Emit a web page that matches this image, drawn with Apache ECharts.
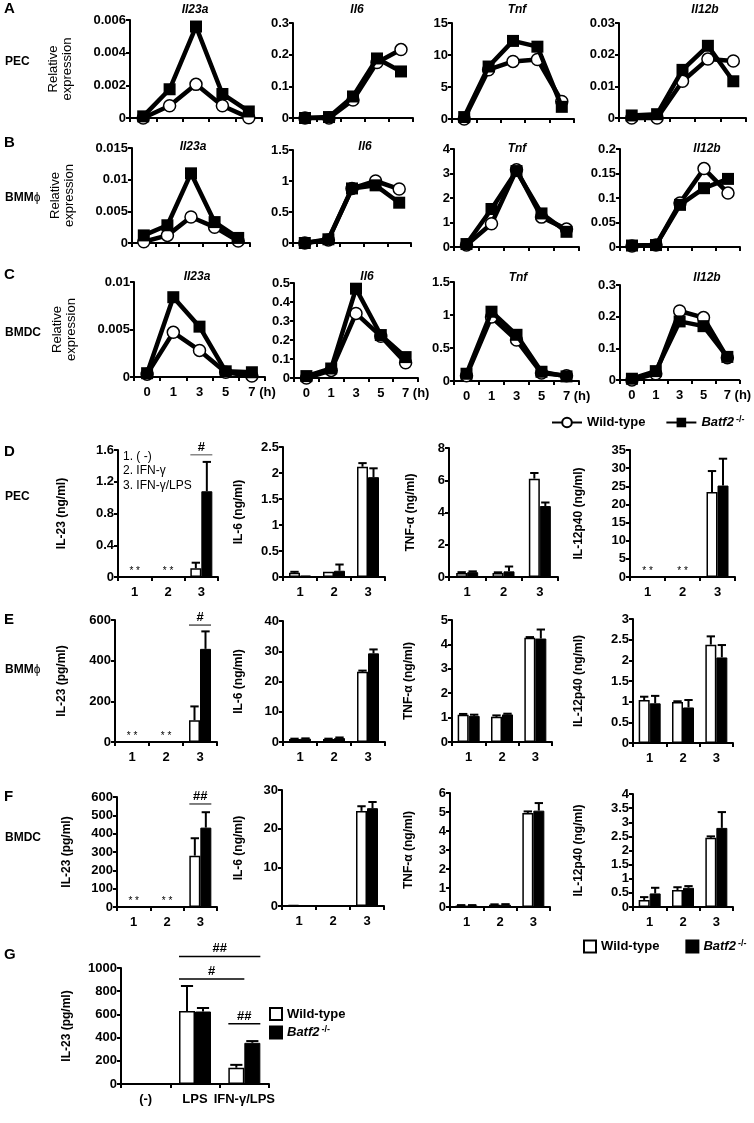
<!DOCTYPE html>
<html><head><meta charset="utf-8">
<script src="https://cdn.jsdelivr.net/npm/echarts@6/dist/echarts.min.js"></script>
<style>html,body{margin:0;padding:0;background:#fff}#c{width:754px;height:1123px}</style>
</head><body><div id="c"></div>
<script>
// ---------- DATA ----------
const hours = ['0', '1', '3', '5', '7'];
// A: PEC (relative expression)
const pecIl23aWT = [0, 0.00075, 0.00206, 0.00075, 0.00002];
const pecIl23aKO = [0.0001, 0.00176, 0.0056, 0.00147, 0.0004];
const pecIl6WT = [0, 0, 0.057, 0.175, 0.216];
const pecIl6KO = [0, 0.003, 0.068, 0.188, 0.147];
const pecTnfWT = [0, 7.7, 9.0, 9.3, 2.75];
const pecTnfKO = [0.3, 8.2, 12.2, 11.3, 1.9];
const pecIl12bWT = [0, 0, 0.0116, 0.0186, 0.018];
const pecIl12bKO = [0.0008, 0.0012, 0.0152, 0.0228, 0.0116];
// B: BMM (relative expression)
const bmmIl23aWT = [0.0002, 0.0012, 0.0041, 0.0025, 0.0003];
const bmmIl23aKO = [0.0012, 0.0028, 0.011, 0.0033, 0.0008];
const bmmIl6WT = [0, 0.05, 0.88, 1.0, 0.87];
const bmmIl6KO = [0, 0.06, 0.88, 0.93, 0.65];
const bmmTnfWT = [0.08, 0.95, 3.15, 1.22, 0.73];
const bmmTnfKO = [0.12, 1.55, 3.1, 1.37, 0.62];
const bmmIl12bWT = [0.002, 0.004, 0.09, 0.16, 0.11];
const bmmIl12bKO = [0.003, 0.004, 0.086, 0.12, 0.139];
// C: BMDC (relative expression)
const bmdcIl23aWT = [0.0003, 0.0047, 0.0028, 0.0005, 0.0001];
const bmdcIl23aKO = [0.0004, 0.0084, 0.0053, 0.0006, 0.0005];
const bmdcIl6WT = [0, 0.04, 0.34, 0.22, 0.08];
const bmdcIl6KO = [0.01, 0.05, 0.47, 0.226, 0.11];
const bmdcTnfWT = [0.08, 0.97, 0.62, 0.12, 0.08];
const bmdcTnfKO = [0.11, 1.05, 0.7, 0.14, 0.07];
const bmdcIl12bWT = [0, 0.02, 0.218, 0.197, 0.07];
const bmdcIl12bKO = [0.004, 0.028, 0.185, 0.17, 0.073];

const barCats = ['1', '2', '3'];
// D: PEC cytokines
const pecIL23WT = [0, 0, 0.11],   pecIL23WTerr = [0, 0, 0.07];
const pecIL23KO = [0, 0, 1.08],   pecIL23KOerr = [0, 0, 0.37];
const pecIL6WT = [0.08, 0.1, 2.12], pecIL6WTerr = [0.02, 0, 0.07];
const pecIL6KO = [0.03, 0.12, 1.92], pecIL6KOerr = [0, 0.12, 0.17];
const pecTNFWT = [0.25, 0.25, 6.1], pecTNFWTerr = [0.05, 0.04, 0.35];
const pecTNFKO = [0.3, 0.35, 4.4],  pecTNFKOerr = [0.05, 0.3, 0.22];
const pecIL12WT = [0, 0, 23.4], pecIL12WTerr = [0, 0, 5.8];
const pecIL12KO = [0, 0, 25.2], pecIL12KOerr = [0, 0, 7.4];
// E: BMM cytokines
const bmmIL23WT = [0, 0, 107], bmmIL23WTerr = [0, 0, 68];
const bmmIL23KO = [0, 0, 458], bmmIL23KOerr = [0, 0, 86];
const bmmIL6WT = [1.0, 1.0, 23.2], bmmIL6WTerr = [0.1, 0.1, 0.4];
const bmmIL6KO = [1.1, 1.3, 29.3], bmmIL6KOerr = [0.1, 0.2, 1.3];
const bmmTNFWT = [1.12, 1.03, 4.27], bmmTNFWTerr = [0.03, 0.06, 0.03];
const bmmTNFKO = [1.07, 1.13, 4.24], bmmTNFKOerr = [0.05, 0.03, 0.37];
const bmmIL12WT = [1.04, 0.99, 2.38], bmmIL12WTerr = [0.08, 0.02, 0.2];
const bmmIL12KO = [0.96, 0.86, 2.07], bmmIL12KOerr = [0.18, 0.18, 0.3];
// F: BMDC cytokines
const bmdcIL23WT = [0, 0, 280], bmdcIL23WTerr = [0, 0, 95];
const bmdcIL23KO = [0, 0, 433], bmdcIL23KOerr = [0, 0, 84];
const bmdcIL6WT = [0.2, 0.15, 24.6], bmdcIL6WTerr = [0, 0, 1.2];
const bmdcIL6KO = [0.2, 0.2, 25.3],  bmdcIL6KOerr = [0, 0, 1.6];
const bmdcTNFWT = [0.08, 0.12, 4.95], bmdcTNFWTerr = [0.02, 0.02, 0.08];
const bmdcTNFKO = [0.08, 0.12, 5.07], bmdcTNFKOerr = [0.02, 0.03, 0.4];
const bmdcIL12WT = [0.25, 0.6, 2.45], bmdcIL12WTerr = [0.1, 0.1, 0.05];
const bmdcIL12KO = [0.48, 0.68, 2.8], bmdcIL12KOerr = [0.2, 0.06, 0.56];
// G
const gCats = ['(-)', 'LPS', 'IFN-γ/LPS'];
const gIL23WT = [5, 630, 140], gIL23WTerr = [0, 215, 25];
const gIL23KO = [5, 625, 355], gIL23KOerr = [0, 30, 15];

// ---------- BUILD ----------
const FONT = '"Liberation Sans", Arial, Helvetica, sans-serif';
const grids = [], xAxes = [], yAxes = [], series = [], graphics = [];

function txt(x, y, text, o) {
  o = o || {};
  const font = (o.italic ? 'italic ' : '') + (o.weight || 'bold') + ' ' + (o.size || 12) + 'px ' + FONT;
  const st = {text: text, fill: '#000', font: font, textAlign: o.align || 'left', align: o.align || 'left',
    textVerticalAlign: 'middle', verticalAlign: 'middle'};
  if (o.rich) st.rich = o.rich;
  graphics.push({type: 'text', x: x, y: y, z: 100, style: st});
}

function fmtNum(v) { return String(parseFloat(Number(v).toFixed(6))); }

function yAxisCfg(gi, max, step, name, nameGap, nameOpts) {
  nameOpts = nameOpts || {};
  return {gridIndex: gi, type: 'value', min: 0, max: max, interval: step,
    axisLine: {show: true, lineStyle: {color: '#000', width: 2}},
    axisTick: {show: true, length: 4, lineStyle: {color: '#000', width: 2}},
    splitLine: {show: false},
    axisLabel: {color: '#000', fontFamily: FONT, fontWeight: 'bold', fontSize: 13, margin: 4, formatter: fmtNum},
    name: name || '', nameLocation: 'middle', nameGap: nameGap || 0, nameRotate: 90,
    nameTextStyle: {color: '#000', fontFamily: FONT, fontWeight: nameOpts.weight || 'bold',
      fontSize: nameOpts.size || 12, lineHeight: nameOpts.lh || 14}
  };
}

function xAxisCfg(gi, cats, showLabels, margin) {
  return {gridIndex: gi, type: 'category', data: cats, boundaryGap: true,
    axisLine: {show: true, lineStyle: {color: '#000', width: 2}},
    axisTick: {show: true, length: 4, interval: 0, alignWithLabel: false, lineStyle: {color: '#000', width: 2}},
    axisLabel: {show: showLabels, interval: 0, color: '#000', fontFamily: FONT, fontWeight: 'bold', fontSize: 13,
      margin: margin || 9,
      formatter: function (v) { return v === '7' ? '{h|(h) }7 (h)' : v; },
      rich: {h: {color: 'rgba(0,0,0,0)', fontFamily: FONT, fontWeight: 'bold', fontSize: 13}}}
  };
}

function addLine(pos, max, step, wt, ko, showX, yName) {
  const gi = grids.length;
  grids.push({left: pos[0], top: pos[1], width: pos[2], height: pos[3]});
  xAxes.push(xAxisCfg(gi, hours, !!showX, 9));
  yAxes.push(yAxisCfg(gi, max, step, yName ? 'Relative\nexpression' : '', 56, {weight: 'normal', size: 13, lh: 14}));
  series.push({type: 'line', name: 'WT-line', xAxisIndex: gi, yAxisIndex: gi, data: wt, clip: false,
    symbol: 'circle', symbolSize: 12, z: 3,
    lineStyle: {color: '#000', width: 4.5}, itemStyle: {color: '#fff', borderColor: '#000', borderWidth: 1.5}});
  series.push({type: 'line', name: 'KO-line', xAxisIndex: gi, yAxisIndex: gi, data: ko, clip: false,
    symbol: 'rect', symbolSize: 12, z: 4,
    lineStyle: {color: '#000', width: 4.5}, itemStyle: {color: '#000', borderColor: '#000', borderWidth: 0}});
}

function errSeries(gi, means, errs, side, bw) {
  return {type: 'custom', xAxisIndex: gi, yAxisIndex: gi, z: 6, silent: true, clip: false,
    data: means.map(function (m, i) { return [i, m, errs[i]]; }),
    encode: {x: 0, y: 1},
    renderItem: function (params, api) {
      const e = api.value(2);
      if (!e) return null;
      const m = api.value(1);
      const p0 = api.coord([api.value(0), m]);
      const p1 = api.coord([api.value(0), m + e]);
      const x = p0[0] + side * bw / 2;
      const cap = bw * 0.38;
      return {type: 'group', children: [
        {type: 'line', shape: {x1: x, y1: p0[1], x2: x, y2: p1[1]}, style: {stroke: '#000', lineWidth: 2}},
        {type: 'line', shape: {x1: x - cap, y1: p1[1], x2: x + cap, y2: p1[1]}, style: {stroke: '#000', lineWidth: 2}}
      ]};
    }};
}

function starSeries(gi, cats) {
  return {type: 'custom', xAxisIndex: gi, yAxisIndex: gi, z: 6, silent: true, clip: false,
    data: cats.map(function (c) { return [c, 0]; }), encode: {x: 0, y: 1},
    renderItem: function (params, api) {
      const p = api.coord([api.value(0), 0]);
      return {type: 'text', x: p[0], y: p[1] - 6, style: {text: '* *', fill: '#000',
        font: 'normal 10px ' + FONT, textAlign: 'center', align: 'center', textVerticalAlign: 'middle', verticalAlign: 'middle'}};
    }};
}

// sig entries: [cat1, side1, cat2, side2, yValue, label, color]
function sigSeries(gi, sig, bw) {
  return {type: 'custom', xAxisIndex: gi, yAxisIndex: gi, z: 6, silent: true, clip: false,
    data: sig.map(function (s) { return [s[0], s[4]]; }), encode: {x: 0, y: 1},
    renderItem: function (params, api) {
      const s = sig[params.dataIndex];
      const a = api.coord([s[0], s[4]]);
      const b = api.coord([s[2], s[4]]);
      const x1 = a[0] + s[1] * bw, x2 = b[0] + s[3] * bw, y = a[1];
      return {type: 'group', children: [
        {type: 'line', shape: {x1: x1, y1: y, x2: x2, y2: y}, style: {stroke: s[6] || '#000', lineWidth: 1.5}},
        {type: 'text', x: (x1 + x2) / 2, y: y - 1, style: {text: s[5], fill: '#000', font: 'bold 13px ' + FONT,
          textAlign: 'center', align: 'center', textVerticalAlign: 'bottom', verticalAlign: 'bottom'}}
      ]};
    }};
}

function addBar(pos, cats, max, step, name, nameGap, wt, wtErr, ko, koErr, opt) {
  opt = opt || {};
  const gi = grids.length, bw = opt.bw || 11;
  grids.push({left: pos[0], top: pos[1], width: pos[2], height: pos[3]});
  xAxes.push(xAxisCfg(gi, cats, true, 9));
  yAxes.push(yAxisCfg(gi, max, step, name, nameGap));
  series.push({type: 'bar', name: 'WT-bar', xAxisIndex: gi, yAxisIndex: gi, data: wt, barWidth: bw, barGap: '0%', z: 3,
    itemStyle: {color: '#fff', borderColor: '#000', borderWidth: 1.5}});
  series.push({type: 'bar', name: 'KO-bar', xAxisIndex: gi, yAxisIndex: gi, data: ko, barWidth: bw, barGap: '0%', z: 3,
    itemStyle: {color: '#000', borderColor: '#000', borderWidth: 1}});
  series.push(errSeries(gi, wt, wtErr, -1, bw));
  series.push(errSeries(gi, ko, koErr, 1, bw));
  if (opt.stars) series.push(starSeries(gi, opt.stars));
  if (opt.sig) series.push(sigSeries(gi, opt.sig, bw));
}

// Row A
addLine([130, 20, 132, 98], 0.006, 0.002, pecIl23aWT, pecIl23aKO, false, true);
addLine([293, 23, 120, 95], 0.3, 0.1, pecIl6WT, pecIl6KO, false);
addLine([452, 23, 122, 96], 15, 5, pecTnfWT, pecTnfKO, false);
addLine([619, 23, 127, 95], 0.03, 0.01, pecIl12bWT, pecIl12bKO, false);
// Row B
addLine([132, 148, 118, 95], 0.015, 0.005, bmmIl23aWT, bmmIl23aKO, false, true);
addLine([293, 150, 118, 93], 1.5, 0.5, bmmIl6WT, bmmIl6KO, false);
addLine([454, 149, 125, 98], 4, 1, bmmTnfWT, bmmTnfKO, false);
addLine([620, 149, 120, 98], 0.2, 0.05, bmmIl12bWT, bmmIl12bKO, false);
// Row C
addLine([134, 282, 131, 95], 0.01, 0.005, bmdcIl23aWT, bmdcIl23aKO, true, true);
addLine([294, 283, 124, 95], 0.5, 0.1, bmdcIl6WT, bmdcIl6KO, true);
addLine([454, 282, 125, 99], 1.5, 0.5, bmdcTnfWT, bmdcTnfKO, true);
addLine([620, 285, 121, 95], 0.3, 0.1, bmdcIl12bWT, bmdcIl12bKO, true);

// Row D
addBar([118, 450, 100, 127], barCats, 1.6, 0.4, 'IL-23 (ng/ml)', 49, pecIL23WT, pecIL23WTerr, pecIL23KO, pecIL23KOerr,
  {stars: [0, 1], sig: [[2, -1, 2, 1, 1.54, '#', '#888']]});
addBar([283, 447, 102, 130], barCats, 2.5, 0.5, 'IL-6 (ng/ml)', 37, pecIL6WT, pecIL6WTerr, pecIL6KO, pecIL6KOerr);
addBar([449, 448, 109, 129], barCats, 8, 2, 'TNF-α (ng/ml)', 31, pecTNFWT, pecTNFWTerr, pecTNFKO, pecTNFKOerr);
addBar([630, 450, 105, 127], barCats, 35, 5, 'IL-12p40 (ng/ml)', 44, pecIL12WT, pecIL12WTerr, pecIL12KO, pecIL12KOerr,
  {stars: [0, 1]});
// Row E
addBar([115, 620, 102, 122], barCats, 600, 200, 'IL-23 (pg/ml)', 46, bmmIL23WT, bmmIL23WTerr, bmmIL23KO, bmmIL23KOerr,
  {stars: [0, 1], sig: [[2, -1, 2, 1, 575, '#', '#555']]});
addBar([283, 621, 102, 121], barCats, 40, 10, 'IL-6 (ng/ml)', 37, bmmIL6WT, bmmIL6WTerr, bmmIL6KO, bmmIL6KOerr);
addBar([452, 620, 100, 122], barCats, 5, 1, 'TNF-α (ng/ml)', 36, bmmTNFWT, bmmTNFWTerr, bmmTNFKO, bmmTNFKOerr);
addBar([633, 619, 100, 124], barCats, 3, 0.5, 'IL-12p40 (ng/ml)', 47, bmmIL12WT, bmmIL12WTerr, bmmIL12KO, bmmIL12KOerr);
// Row F
addBar([117, 797, 100, 110], barCats, 600, 100, 'IL-23 (pg/ml)', 43, bmdcIL23WT, bmdcIL23WTerr, bmdcIL23KO, bmdcIL23KOerr,
  {stars: [0, 1], sig: [[2, -1, 2, 1, 562, '##', '#555']]});
addBar([282, 790, 102, 116], barCats, 30, 10, 'IL-6 (ng/ml)', 36, bmdcIL6WT, bmdcIL6WTerr, bmdcIL6KO, bmdcIL6KOerr);
addBar([450, 793, 100, 114], barCats, 6, 1, 'TNF-α (ng/ml)', 34, bmdcTNFWT, bmdcTNFWTerr, bmdcTNFKO, bmdcTNFKOerr);
addBar([633, 794, 100, 113], barCats, 4, 0.5, 'IL-12p40 (ng/ml)', 47, bmdcIL12WT, bmdcIL12WTerr, bmdcIL12KO, bmdcIL12KOerr);
// Row G
addBar([121, 968, 148, 116], gCats, 1000, 200, 'IL-23 (pg/ml)', 47, gIL23WT, gIL23WTerr, gIL23KO, gIL23KOerr,
  {bw: 16, sig: [[1, -1, 2, 1, 1100, '##'], [1, -1, 2, 0, 905, '#'], [2, -1, 2, 1, 520, '##']]});

// Titles (gene names)
[[195, 10], [357, 10], [517, 10], [705, 10]].forEach(function (p, i) {
  txt(p[0], p[1], ['Il23a', 'Il6', 'Tnf', 'Il12b'][i], {italic: true, align: 'center', size: 12});
});
[[193, 147], [365, 147], [517, 149], [707, 149]].forEach(function (p, i) {
  txt(p[0], p[1], ['Il23a', 'Il6', 'Tnf', 'Il12b'][i], {italic: true, align: 'center', size: 12});
});
[[197, 277], [367, 277], [518, 278], [707, 278]].forEach(function (p, i) {
  txt(p[0], p[1], ['Il23a', 'Il6', 'Tnf', 'Il12b'][i], {italic: true, align: 'center', size: 12});
});

// Row labels
const phiRich = {p: {font: 'normal 12px ' + FONT, fill: '#000'}};
txt(4, 9, 'A', {size: 15}); txt(5, 62, 'PEC', {size: 12});
txt(4, 143, 'B', {size: 15}); txt(5, 198, 'BMM{p|ϕ}', {size: 12, rich: phiRich});
txt(4, 275, 'C', {size: 15}); txt(5, 333, 'BMDC', {size: 12});
txt(4, 452, 'D', {size: 15}); txt(5, 497, 'PEC', {size: 12});
txt(4, 620, 'E', {size: 15}); txt(5, 670, 'BMM{p|ϕ}', {size: 12, rich: phiRich});
txt(4, 797, 'F', {size: 15}); txt(5, 838, 'BMDC', {size: 12});
txt(4, 955, 'G', {size: 15});

// In-panel treatment key
txt(123, 457, '1. ( -)', {weight: 'normal', size: 12});
txt(123, 471, '2. IFN-γ', {weight: 'normal', size: 12});
txt(123, 486, '3. IFN-γ/LPS', {weight: 'normal', size: 12});

const legendText = {color: '#000', fontFamily: FONT, fontWeight: 'bold', fontSize: 13,
  rich: {i: {fontStyle: 'italic', fontWeight: 'bold', fontSize: 13, fontFamily: FONT, color: '#000'},
         s: {fontSize: 9, fontWeight: 'bold', fontFamily: FONT, color: '#000', verticalAlign: 'top', padding: [0, 0, 6, 2]}}};
function legFmt(n) { return n.indexOf('WT') === 0 ? 'Wild-type' : '{i|Batf2}{s|-/-}'; }

const chart = echarts.init(document.getElementById('c'), null, {renderer: 'canvas'});
chart.setOption({
  animation: false,
  backgroundColor: '#fff',
  grid: grids, xAxis: xAxes, yAxis: yAxes, series: series,
  legend: [
    {data: ['WT-line', 'KO-line'], left: 546, top: 410, itemWidth: 30, itemHeight: 12, itemGap: 20,
      formatter: legFmt, textStyle: legendText, selectedMode: false},
    {data: [{name: 'WT-bar', icon: 'rect'}, {name: 'KO-bar', icon: 'rect'}], left: 578, top: 934,
      itemWidth: 12, itemHeight: 12, itemGap: 26, formatter: legFmt, textStyle: legendText, selectedMode: false},
    {data: [{name: 'WT-bar', icon: 'rect'}, {name: 'KO-bar', icon: 'rect'}], left: 264, top: 1002, orient: 'vertical',
      itemWidth: 12, itemHeight: 12, itemGap: 4, formatter: legFmt, textStyle: legendText, selectedMode: false}
  ],
  graphic: graphics
});
</script></body></html>
